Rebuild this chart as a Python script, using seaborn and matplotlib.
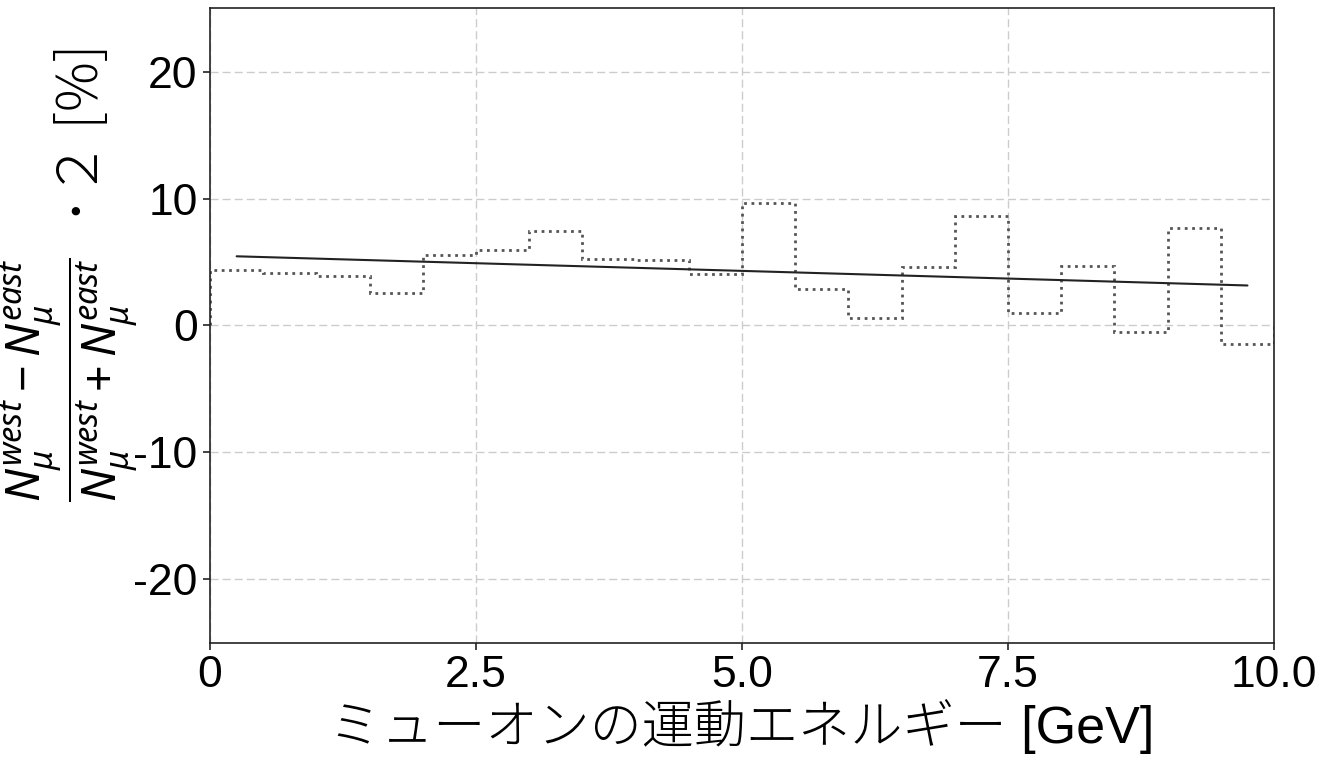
import numpy as np
import matplotlib
matplotlib.use("Agg")
import matplotlib.pyplot as plt
import seaborn as sns

# Bin edges of the muon kinetic energy [GeV] and the west-east asymmetry per bin [%]
bin_edges = [0.0, 0.5, 1.0, 1.5, 2.0, 2.5, 3.0, 3.5, 4.0, 4.5, 5.0,
             5.5, 6.0, 6.5, 7.0, 7.5, 8.0, 8.5, 9.0, 9.5, 10.0]
asymmetry = [4.39, 4.15, 3.91, 2.55, 5.54, 5.96, 7.48, 5.20, 5.12, 4.02,
             9.66, 2.89, 0.60, 4.57, 8.61, 1.00, 4.65, -0.52, 7.69, -1.47]

x_ticks = [0, 2.5, 5.0, 7.5, 10.0]
x_tick_labels = ["0", "2.5", "5.0", "7.5", "10.0"]
y_ticks = [-20, -10, 0, 10, 20]
y_tick_labels = ["-20", "-10", "0", "10", "20"]

sns.set_theme(style="whitegrid")
plt.rcParams["font.family"] = ["Liberation Sans", "Noto Sans CJK JP", "DejaVu Sans"]
plt.rcParams["mathtext.fontset"] = "custom"
plt.rcParams["mathtext.it"] = "Noto Sans:italic"
plt.rcParams["mathtext.rm"] = "Noto Sans"
plt.rcParams["mathtext.bf"] = "Noto Sans:bold"

W, H = 1332, 763
fig = plt.figure(figsize=(W / 100, H / 100), dpi=100)
ax = fig.add_axes([0.1577, 0.1573, 0.7988, 0.8322])
ax.set_facecolor("white")

edges = np.asarray(bin_edges)
vals = np.asarray(asymmetry)
centers = 0.5 * (edges[:-1] + edges[1:])

# Per-bin asymmetry as a dotted step outline
ax.stairs(vals, edges, baseline=0, color="#555555", linestyle=":",
          linewidth=2.0, zorder=2)

# Linear fit through the bin centres
slope, intercept = np.polyfit(centers, vals, 1)
sns.lineplot(x=centers, y=slope * centers + intercept, ax=ax,
             color="#222222", linewidth=1.5, zorder=4)

ax.set_xlim(0, 10)
ax.set_ylim(-25, 25)
ax.set_xticks(x_ticks)
ax.set_xticklabels(x_tick_labels)
ax.set_yticks(y_ticks)
ax.set_yticklabels(y_tick_labels)
ax.tick_params(axis="both", labelsize=32, length=5, width=1.2,
               color="#222222", labelcolor="black", direction="out",
               bottom=True, left=True, pad=4)

ax.grid(True, color="#cccccc", linestyle=(0, (5.8, 2.9)), linewidth=1.0)
for sp in ax.spines.values():
    sp.set_visible(True)
    sp.set_color("#222222")
    sp.set_linewidth(1.2)
    sp.set_zorder(3)

ax.set_xlabel("ミューオンの運動エネルギー [GeV]", fontsize=37.5, labelpad=2,
              color="black", fontweight="light")
ax.set_ylabel("")

# Y-axis label: asymmetry fraction, followed by the factor and unit
fig.text(69 / W, 1 - 380 / H,
         r"$\dfrac{N_{\mu}^{west}-N_{\mu}^{east}}{N_{\mu}^{west}+N_{\mu}^{east}}$",
         rotation=90, ha="center", va="center", fontsize=33.5, color="black")
fig.text(98 / W, 1 - 224 / H, "･２ [%]", rotation=90, rotation_mode="anchor",
         ha="left", va="baseline", fontsize=40, color="black",
         fontweight="light", family=["Noto Sans CJK JP", "DejaVu Sans"])

fig.savefig("out.png", dpi=100, facecolor="white")
